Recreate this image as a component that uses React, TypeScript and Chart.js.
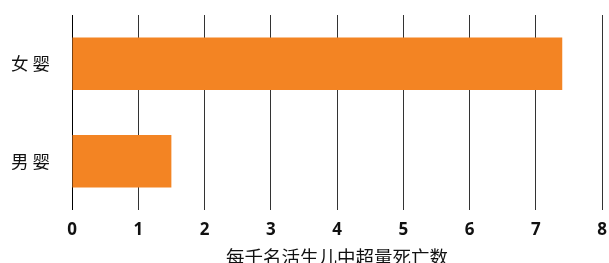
import React, { useEffect, useRef } from "react";
import { Chart, registerables } from "chart.js";

Chart.register(...registerables);

const categories = ["女 婴", "男 婴"];
const values = [7.4, 1.5];
const axisTitle = "每千名活生儿中超量死亡数";
const xMin = 0;
const xMax = 8;

export default function App() {
  const ref = useRef<HTMLCanvasElement | null>(null);
  useEffect(() => {
    if (!ref.current) return;
    const chart = new Chart(ref.current, {
      type: "bar",
      data: {
        labels: categories,
        datasets: [
          {
            data: values,
            backgroundColor: "#f38423",
            borderWidth: 0,
            barPercentage: 0.54,
            categoryPercentage: 1,
          },
        ],
      },
      options: {
        indexAxis: "y",
        animation: false,
        responsive: false,
        maintainAspectRatio: false,
        layout: { padding: { top: 15, right: 7, bottom: 0, left: 0 } },
        plugins: { legend: { display: false }, tooltip: { enabled: false } },
        scales: {
          x: {
            min: xMin,
            max: xMax,
            ticks: {
              stepSize: 1,
              color: "#111",
              padding: 10,
              font: { family: "'Noto Sans', sans-serif", size: 17, weight: "bold" },
            },
            grid: {
              drawTicks: false,
              color: (ctx: any) => (ctx.tick && ctx.tick.value === 0 ? "#000" : "#333"),
              lineWidth: 1,
            },
            border: { display: false },
            title: {
              display: true,
              text: axisTitle,
              color: "#111",
              padding: { top: 0, bottom: -3 },
              font: { family: "'Noto Sans CJK SC', sans-serif", size: 18.5, lineHeight: 1 },
            },
            afterFit: (scale: any) => {
              scale.height = 53;
              scale.paddingLeft = 0;
              scale.paddingRight = 0;
            },
          },
          y: {
            ticks: {
              color: "#111",
              padding: 22,
              font: { family: "'Noto Sans CJK SC', sans-serif", size: 17.5 },
            },
            grid: { display: false, drawTicks: false },
            border: { display: false },
            afterFit: (scale: any) => {
              scale.width = 72;
              scale.paddingTop = 0;
              scale.paddingBottom = 0;
            },
          },
        },
      },
    });
    return () => chart.destroy();
  }, []);
  return (
    <div style={{ position: "fixed", left: 0, top: 0, width: 609, height: 263, background: "#fff" }}>
      <canvas ref={ref} width={609} height={263} style={{ width: 609, height: 263, display: "block" }} />
    </div>
  );
}
